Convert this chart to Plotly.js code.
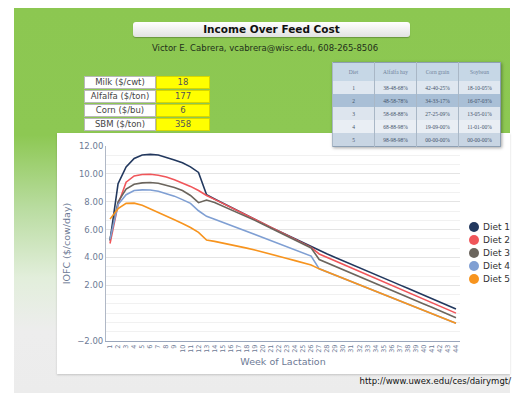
<!DOCTYPE html>
<html>
<head>
<meta charset="utf-8">
<script src="https://cdn.plot.ly/plotly-3.0.1.min.js"></script>
<style>
  html, body { margin: 0; padding: 0; }
  body { width: 518px; height: 393px; position: relative; overflow: hidden; background: #ffffff;
         font-family: "DejaVu Sans", Verdana, sans-serif; }
  #bg { position: absolute; left: 14px; top: 8px; width: 496px; height: 385px;
        background: linear-gradient(to bottom, #8cc751 0%, #8dc853 33%, #b9dca0 52%, #e2eedb 70%, #ededed 84%, #ececec 100%); }
  #titlebar { position: absolute; left: 133px; top: 22px; width: 277px; height: 15px; border-radius: 3px;
              background: linear-gradient(to bottom, #ffffff, #e2e2e2); box-shadow: 0 1px 1px rgba(0,0,0,0.25);
              text-align: center; font-weight: bold; font-size: 10.5px; line-height: 15px; color: #111; }
  #author { position: absolute; left: 100px; width: 330px; top: 43px; text-align: center;
            font-size: 8.5px; color: #22301a; }
  #prices { position: absolute; left: 84px; top: 75px; border-collapse: separate; border-spacing: 0 1px; }
  #prices td { height: 11px; padding: 0; font-size: 8.5px; line-height: 11px; text-align: center; }
  #prices td.lab { width: 70px; background: #ffffff; color: #444; border: 1px solid #b8b8b8; }
  #prices td.val { width: 52px; background: #ffff00; color: #555; border: 1px solid #d6d600; }
  #panel { position: absolute; left: 57px; top: 133px; width: 453px; height: 241px; background: #ffffff;
           box-shadow: 0 1px 2px rgba(0,0,0,0.18); }
  #diets { position: absolute; left: 332px; top: 62px; border-collapse: collapse;
           box-shadow: 1px 1px 3px rgba(0,0,0,0.35); border: 1px solid #8d9fb3; }
  #diets td { padding: 0; width: 41px; text-align: center; font-family: "Liberation Serif", serif;
              font-size: 5.5px; color: #44546b; border-left: 1px solid #a9b7c6; }
  #diets tr.h td { height: 18px; background: #c6d7e6; color: #6f829a; }
  #diets tr.r td { height: 13px; }
  #url { position: absolute; right: 7px; top: 376px; font-size: 8.5px; color: #111; }
  #chart { position: absolute; left: 0; top: 0; width: 518px; height: 393px; }
</style>
</head>
<body>
<div id="bg"></div>
<div id="titlebar">Income Over Feed Cost</div>
<div id="author">Victor E. Cabrera, vcabrera@wisc.edu, 608-265-8506</div>
<table id="prices"></table>
<div id="panel"></div>
<div id="chart"></div>
<table id="diets"></table>
<div id="url">http://www.uwex.edu/ces/dairymgt/</div>
<script>
// Input prices
var priceLabels = ["Milk ($/cwt)", "Alfalfa ($/ton)", "Corn ($/bu)", "SBM ($/ton)"];
var priceValues = ["18", "177", "6", "358"];

// Diet composition table
var dietHeader = ["Diet", "Alfalfa hay", "Corn grain", "Soybean"];
var dietIds = ["1", "2", "3", "4", "5"];
var dietAlfalfa = ["38-48-68%", "48-58-78%", "58-68-88%", "68-88-98%", "98-98-98%"];
var dietCorn = ["42-40-25%", "34-33-17%", "27-25-09%", "19-09-00%", "00-00-00%"];
var dietSoy = ["18-10-05%", "16-07-03%", "13-05-01%", "11-01-00%", "00-00-00%"];

// Income over feed cost ($/cow/day) by week of lactation
var weeks = ["1","2","3","4","5","6","7","8","9","10","11","12","13","14","15","16","17","18","19","20","21","22",
             "23","24","25","26","27","28","29","30","31","32","33","34","35","36","37","38","39","40","41","42","43","44"];
var diet1 = [5.2, 9.3, 10.5, 11.1, 11.35, 11.4, 11.35, 11.2, 11.0, 10.8, 10.5, 10.1, 8.5, 8.2, 7.9, 7.6, 7.3, 7.0,
             6.72, 6.44, 6.16, 5.88, 5.6, 5.32, 5.04, 4.76, 4.5, 4.25, 4.0, 3.76, 3.51, 3.26, 3.02, 2.77, 2.52, 2.28,
             2.03, 1.78, 1.54, 1.29, 1.04, 0.8, 0.55, 0.3];
var diet2 = [5.0, 7.8, 9.4, 9.85, 9.95, 9.97, 9.9, 9.77, 9.58, 9.35, 9.1, 8.8, 8.45, 8.17, 7.88, 7.59, 7.3, 6.98,
             6.7, 6.42, 6.14, 5.86, 5.58, 5.3, 5.01, 4.72, 4.25, 4.0, 3.75, 3.5, 3.25, 3.0, 2.75, 2.5, 2.25, 2.0,
             1.75, 1.5, 1.25, 1.0, 0.75, 0.5, 0.25, 0.0];
var diet3 = [5.3, 8.0, 8.9, 9.25, 9.35, 9.38, 9.33, 9.2, 9.02, 8.8, 8.45, 7.93, 8.12, 7.95, 7.7, 7.45, 7.2, 6.93,
             6.66, 6.38, 6.1, 5.82, 5.54, 5.26, 4.98, 4.68, 3.85, 3.6, 3.36, 3.11, 2.87, 2.62, 2.38, 2.13, 1.89, 1.64,
             1.4, 1.15, 0.91, 0.66, 0.42, 0.17, -0.08, -0.33];
var diet4 = [5.3, 7.8, 8.5, 8.8, 8.85, 8.84, 8.75, 8.6, 8.4, 8.15, 7.88, 7.35, 6.95, 6.75, 6.53, 6.31, 6.09, 5.87,
             5.65, 5.43, 5.21, 4.99, 4.77, 4.55, 4.33, 4.1, 3.18, 2.95, 2.72, 2.49, 2.26, 2.03, 1.8, 1.57, 1.34, 1.11,
             0.88, 0.65, 0.42, 0.19, -0.04, -0.27, -0.5, -0.73];
var diet5 = [6.75, 7.5, 7.88, 7.9, 7.75, 7.5, 7.24, 6.97, 6.7, 6.43, 6.15, 5.8, 5.25, 5.15, 5.04, 4.92, 4.8, 4.67,
             4.53, 4.39, 4.24, 4.09, 3.93, 3.77, 3.61, 3.45, 3.18, 2.95, 2.72, 2.49, 2.26, 2.03, 1.8, 1.57, 1.34, 1.11,
             0.88, 0.65, 0.42, 0.19, -0.04, -0.27, -0.5, -0.73];
var seriesNames = ["Diet 1", "Diet 2", "Diet 3", "Diet 4", "Diet 5"];
var yTickValues = [-2, 2, 4, 6, 8, 10, 12];

// Styling
var lineColors = ["#22385e", "#f0565a", "#6b655d", "#7f9fd3", "#f7941e"];
var rowColors = ["#dfe7f0", "#a9bfd6", "#dde5ee", "#e9eef4", "#c8d5e3"];

// Build the price input table
var pt = document.getElementById("prices");
priceLabels.forEach(function (lab, i) {
  var tr = document.createElement("tr");
  var a = document.createElement("td"); a.className = "lab"; a.textContent = lab;
  var b = document.createElement("td"); b.className = "val"; b.textContent = priceValues[i];
  tr.appendChild(a); tr.appendChild(b); pt.appendChild(tr);
});

// Build the diet composition table
var dt = document.getElementById("diets");
var hr = document.createElement("tr"); hr.className = "h";
dietHeader.forEach(function (h) { var td = document.createElement("td"); td.textContent = h; hr.appendChild(td); });
dt.appendChild(hr);
dietIds.forEach(function (id, i) {
  var tr = document.createElement("tr"); tr.className = "r";
  [id, dietAlfalfa[i], dietCorn[i], dietSoy[i]].forEach(function (v) {
    var td = document.createElement("td"); td.textContent = v; td.style.background = rowColors[i]; tr.appendChild(td);
  });
  dt.appendChild(tr);
});

// Chart
var series = [diet1, diet2, diet3, diet4, diet5];
var traces = series.map(function (ys, i) {
  return {
    type: "scatter", mode: "lines", x: weeks, y: ys, name: seriesNames[i],
    line: { color: lineColors[i], width: 1.6 }, showlegend: false
  };
});

// Compact legend: a dot and a label per diet, stacked at the right of the plot
var plotL = 106, plotR = 460, plotT = 146, plotB = 341;
var legendTop = 227, legendStep = 13, dotX = 474, textX = 481;
var shapes = [], annotations = [];
seriesNames.forEach(function (nm, i) {
  var py = legendTop + i * legendStep;
  var yp = (plotB - py) / (plotB - plotT);
  shapes.push({
    type: "circle", xref: "paper", yref: "paper",
    xsizemode: "pixel", ysizemode: "pixel",
    xanchor: (dotX - plotL) / (plotR - plotL), yanchor: yp,
    x0: -5, x1: 5, y0: -5, y1: 5,
    fillcolor: lineColors[i], line: { width: 0 }
  });
  annotations.push({
    xref: "paper", yref: "paper", x: (textX - plotL) / (plotR - plotL), y: yp,
    xanchor: "left", yanchor: "middle", showarrow: false, text: nm,
    font: { size: 9, color: "#333333" }
  });
});

var axisColor = "#6d7a95";
var layout = {
  width: 518, height: 393,
  margin: { l: plotL, r: 518 - plotR, t: plotT, b: 393 - plotB, pad: 0 },
  paper_bgcolor: "rgba(0,0,0,0)", plot_bgcolor: "rgba(0,0,0,0)",
  font: { family: "DejaVu Sans, Verdana, sans-serif", color: axisColor },
  showlegend: false,
  shapes: shapes, annotations: annotations,
  xaxis: {
    type: "category", range: [-0.5, 43.5], showgrid: false, zeroline: false,
    showline: true, linecolor: "#9aa6bb", linewidth: 1,
    tickmode: "array", tickvals: weeks, ticktext: weeks,
    ticks: "", tickangle: -90, tickfont: { size: 6.5, color: axisColor },
    title: { text: "Week of Lactation", font: { size: 9.5, color: axisColor }, standoff: 6 }
  },
  yaxis: {
    range: [-2, 12], tickvals: yTickValues, tickformat: ".2f",
    tickfont: { size: 8.5, color: axisColor }, ticks: "", ticklen: 0,
    showline: true, linecolor: "#b0b8c6", linewidth: 1, zeroline: false,
    showgrid: true, gridcolor: "#e4e4e4", gridwidth: 1,
    minor: { tick0: -2, dtick: 2 / 3, showgrid: true, gridcolor: "#f1f1f1", gridwidth: 1 },
    title: { text: "IOFC ($/cow/day)", font: { size: 9.5, color: axisColor }, standoff: 4 }
  }
};

Plotly.newPlot("chart", traces, layout, { displayModeBar: false, staticPlot: true });
</script>
</body>
</html>
